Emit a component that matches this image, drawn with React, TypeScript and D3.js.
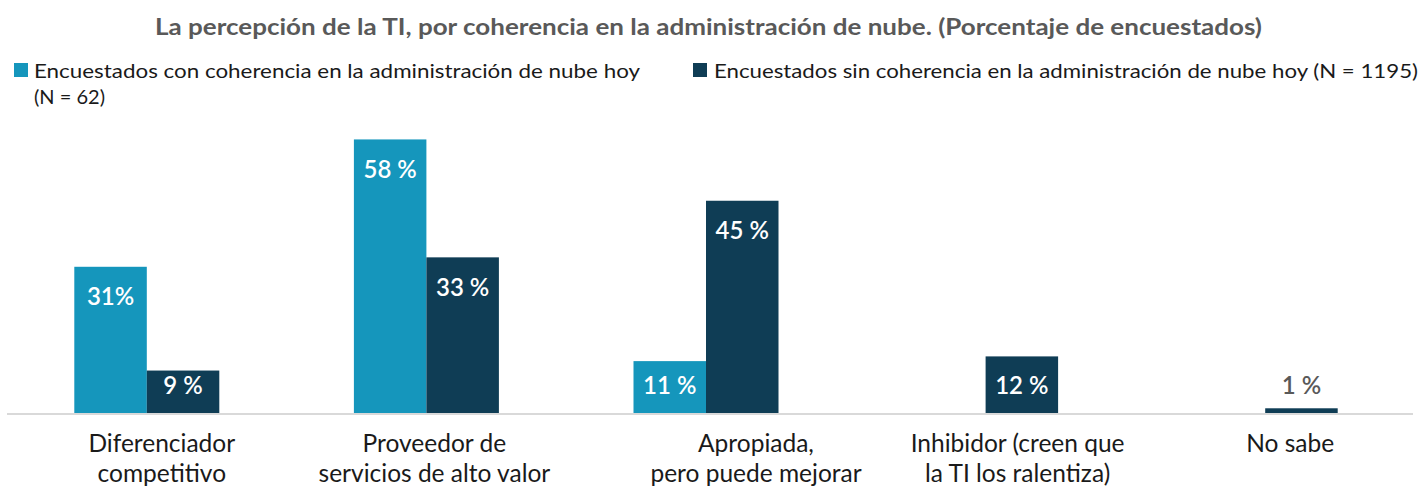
import React from 'react';
import * as d3 from 'd3';

// data
const categories = [
  ['Diferenciador', 'competitivo'],
  ['Proveedor de', 'servicios de alto valor'],
  ['Apropiada,', 'pero puede mejorar'],
  ['Inhibidor (creen que', 'la TI los ralentiza)'],
  ['No sabe'],
];
const seriesNames = [
  'Encuestados con coherencia en la administración de nube hoy',
  'Encuestados sin coherencia en la administración de nube hoy (N = 1195)',
];
const withCoherence = [31, 58, 11, 0, 0];
const withoutCoherence = [9, 33, 45, 12, 1];
const withLabels = ['31%', '58 %', '11 %', '', ''];
const withoutLabels = ['9 %', '33 %', '45 %', '12 %', '1 %'];

const title = 'La percepción de la TI, por coherencia en la administración de nube. (Porcentaje de encuestados)';
const colors = ['#1596bc', '#0f3d55'];
// category labels sit a bit right of the group center in the original
const labelNudge = [15, 8, 50, 32, 25];

const W = 1422;
const H = 487;
const FONT = 'Lato, "Open Sans", sans-serif';

export default function App() {
  const keys = categories.map((c) => c.join(' '));
  const x0 = d3.scaleBand().domain(keys).range([7, 1405]).padding(0);
  const x1 = d3.scaleBand().domain(['with', 'without']).range([0, 145]).padding(0);
  const y = d3.scaleLinear().domain([0, 60]).range([413, 130]);

  const rows = keys.map((k, i) => ({
    key: k,
    lines: categories[i],
    vals: [
      { s: 'with', v: withCoherence[i], label: withLabels[i], color: colors[0] },
      { s: 'without', v: withoutCoherence[i], label: withoutLabels[i], color: colors[1] },
    ],
  }));

  return (
    <svg width={W} height={H} style={{ position: 'absolute', left: 0, top: 0, background: '#fff' }} fontFamily={FONT}>
      <text
        x={155}
        y={35}
        fontSize={22}
        fontWeight="bold"
        fill="#595959"
        textLength={1107}
        lengthAdjust="spacingAndGlyphs"
      >
        {title}
      </text>

      {/* legend */}
      <rect x={14} y={63} width={14} height={14} fill={colors[0]} />
      <text x={34} y={78} fontSize={20} fill="#1a1a1a" textLength={606} lengthAdjust="spacingAndGlyphs">
        {seriesNames[0]}
      </text>
      <text x={34} y={104} fontSize={20} fill="#1a1a1a">
        (N = 62)
      </text>
      <rect x={693} y={63} width={14} height={14} fill={colors[1]} />
      <text x={714} y={78} fontSize={20} fill="#1a1a1a" textLength={704} lengthAdjust="spacingAndGlyphs">
        {seriesNames[1]}
      </text>

      {/* axis line */}
      <line x1={7} x2={1413} y1={y(0) + 1} y2={y(0) + 1} stroke="#d9d9d9" strokeWidth={2} />

      {rows.map((r, i) => {
        const cx = x0(r.key)! + x0.bandwidth() / 2;
        const gx = cx - 72.5;
        return (
          <g key={r.key}>
            {r.vals.map((d) => {
              if (!d.v) return null;
              const bx = gx + x1(d.s)!;
              const bw = x1.bandwidth();
              const top = y(d.v);
              const h = y(0) - top;
              const inside = h > 20;
              const ly = Math.min(top + 30, y(0) - 27);
              return (
                <g key={d.s}>
                  <rect x={bx} y={top} width={bw} height={h} fill={d.color} />
                  <text
                    x={bx + bw / 2}
                    y={ly}
                    dy="0.35em"
                    textAnchor="middle"
                    fontSize={24}
                    fontWeight={600}
                    fill={inside ? '#ffffff' : '#595959'}
                  >
                    {d.label}
                  </text>
                </g>
              );
            })}
            {r.lines.map((ln, j) => (
              <text
                key={j}
                x={cx + labelNudge[i]}
                y={452 + j * 30}
                textAnchor="middle"
                fontSize={24.5}
                fill="#1a1a1a"
              >
                {ln}
              </text>
            ))}
          </g>
        );
      })}
    </svg>
  );
}
